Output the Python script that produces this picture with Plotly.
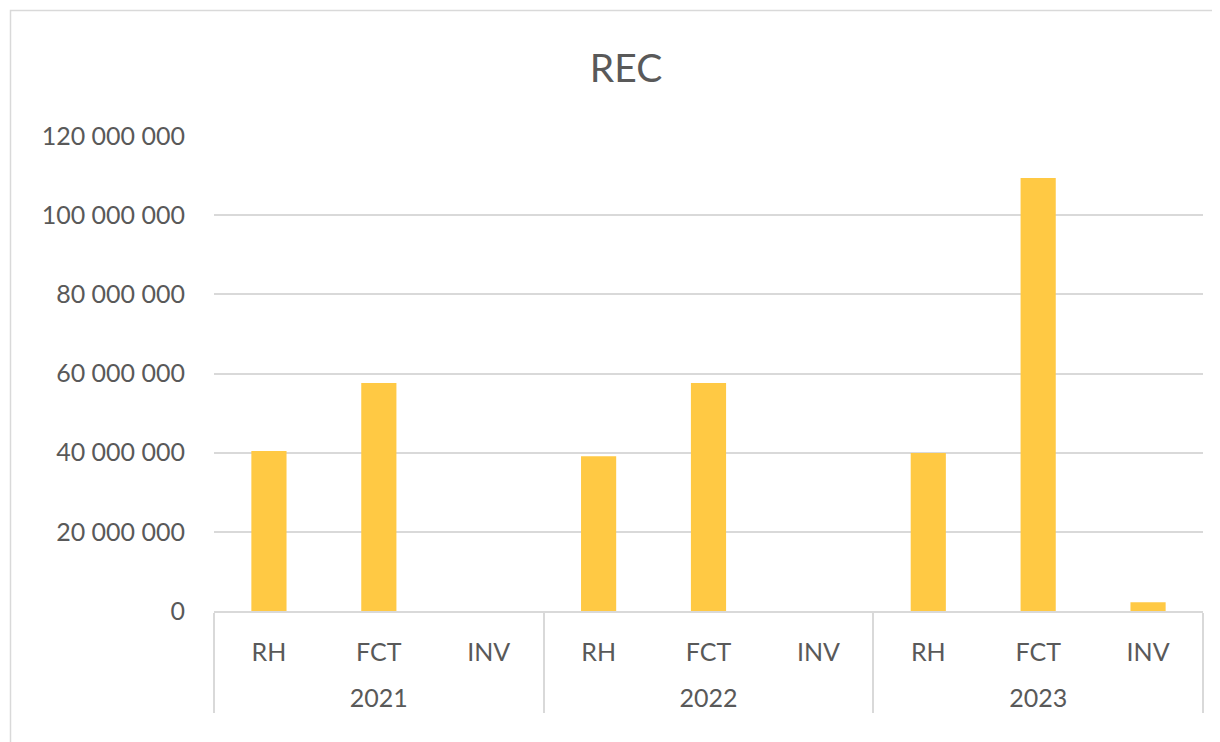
import plotly.graph_objects as go

years = ["2021", "2021", "2021", "2022", "2022", "2022", "2023", "2023", "2023"]
cats = ["RH", "FCT", "INV", "RH", "FCT", "INV", "RH", "FCT", "INV"]
values = [40400000, 57600000, 0, 39100000, 57600000, 0, 39900000, 109400000, 2200000]
tick_vals = [0, 20000000, 40000000, 60000000, 80000000, 100000000, 120000000]
tick_text = ["0", "20 000 000", "40 000 000", "60 000 000", "80 000 000", "100 000 000", "120 000 000"]

FONT = "Lato"
GREY = "#595959"

# page body has an 8px margin: work in page coordinates minus 8
OFF = 8
W, H = 1220 - OFF, 742 - OFF
L, R, T, B = 214 - OFF, 1203 - OFF, 136 - OFF, 611 - OFF

# display labels: an extra blank line pushes the year level further down
cat_labels = [c + "<br>&nbsp;" for c in cats]

fig = go.Figure(go.Bar(x=[years, cat_labels], y=values, marker_color="#FFC944",
                       marker_line_width=0))

fig.update_layout(
    width=W, height=H,
    margin=dict(l=L, r=W - R, t=T, b=H - B, autoexpand=False),
    paper_bgcolor="white", plot_bgcolor="white",
    bargap=0.68,
    showlegend=False,
    title=dict(text="REC", x=(626 - OFF - L) / (R - L), xref="paper", xanchor="center",
               y=1 - (68 - OFF) / H, yref="container", yanchor="middle",
               font=dict(family=FONT, size=39, color=GREY)),
    font=dict(family=FONT, size=25, color=GREY),
)
fig.update_yaxes(range=[0, 120000000], tickvals=tick_vals, ticktext=tick_text,
                 showgrid=True, gridcolor="#D9D9D9", gridwidth=1.5,
                 zeroline=False, showline=False, ticks="", ticklabelstandoff=28,
                 tickfont=dict(family=FONT, size=25, color=GREY))
fig.update_xaxes(type="multicategory", showline=True, linecolor="#D9D9D9", linewidth=1.5,
                 showdividers=True, dividercolor="#D9D9D9", dividerwidth=1.5,
                 ticks="", ticklabelstandoff=18,
                 tickfont=dict(family=FONT, size=25, color=GREY))

# outer chart border
pw, ph = R - L, B - T
def px(x): return (x - OFF - L) / pw
def py(y): return (B - (y - OFF)) / ph
fig.add_shape(type="rect", xref="paper", yref="paper",
              x0=px(10.5), x1=px(1213), y0=py(10.5), y1=py(760),
              line=dict(color="#D9D9D9", width=1.5), fillcolor="rgba(0,0,0,0)", layer="below")

fig.write_html("out.html")
